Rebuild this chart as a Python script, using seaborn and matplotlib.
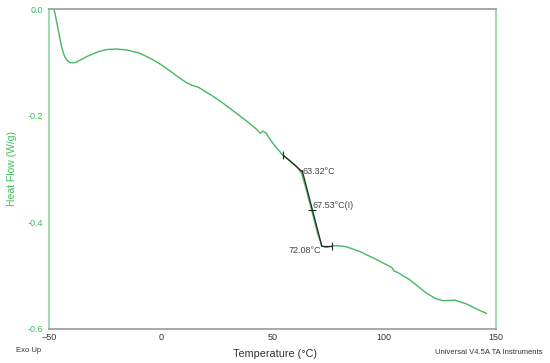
import numpy as np
import pandas as pd
import matplotlib
matplotlib.use('Agg')
import matplotlib.pyplot as plt
from matplotlib.ticker import MultipleLocator, FuncFormatter
import seaborn as sns

# DSC trace
temperature = [-47.8, -47.0, -46.3, -45.6, -45.0, -44.3, -43.6, -43.0, -42.3, -41.5,
               -40.5, -39.3, -38.0, -36.5, -33.0, -28.0,
               -24.0, -19.7, -15.0, -9.3, -4.0, 0.0, 4.1, 8.6, 11.5, 14.0,
               17.0, 20.0, 23.5, 28.0, 34.0, 39.0, 43.0, 44.4, 45.9, 47.2,
               49.5, 51.9, 54.8, 58.0, 61.0, 63.0, 65.0, 67.5, 70.0, 72.0,
               74.0, 77.2, 80.0, 83.2, 89.2, 96.6, 102.6, 103.5, 104.3, 106.0,
               111.5, 119.0, 123.0, 126.4, 131.6, 136.8, 141.0, 145.8]
heat_flow = [0.000, -0.015, -0.030, -0.045, -0.058, -0.072, -0.082, -0.089, -0.094, -0.098,
             -0.1005, -0.101, -0.100, -0.097, -0.089, -0.080,
             -0.076, -0.075, -0.077, -0.083, -0.094, -0.104, -0.116, -0.130, -0.138, -0.143,
             -0.147, -0.155, -0.164, -0.177, -0.196, -0.212, -0.226, -0.233, -0.229, -0.233,
             -0.248, -0.261, -0.275, -0.285, -0.296, -0.308, -0.337, -0.377, -0.418, -0.444,
             -0.447, -0.444, -0.444, -0.446, -0.455, -0.470, -0.483, -0.485, -0.491, -0.494,
             -0.508, -0.533, -0.543, -0.547, -0.546, -0.553, -0.562, -0.571]

# glass transition construction lines
onset_T = [54.8, 63.3]
onset_H = [-0.274, -0.305]
mid_T = [63.3, 72.1]
mid_H = [-0.303, -0.445]
end_T = [72.1, 76.5]
end_H = [-0.445, -0.445]

labels = ["63.32°C", "67.53°C(I)", "72.08°C"]

sns.set_style("white")
plt.rcParams['font.family'] = ['Liberation Sans', 'DejaVu Sans']

green = '#45b862'
light_green = '#9fdcb2'
label_green = '#3cbf5c'
grey = '#9a9a9a'
dark = '#1e2a22'

fig = plt.figure(figsize=(5.5, 3.63), dpi=100)
ax = fig.add_axes([0.0891, 0.0937, 0.8127, 0.8815])

df = pd.DataFrame({'T': temperature, 'H': heat_flow})
sns.lineplot(data=df, x='T', y='H', ax=ax, color=green, lw=1.0, sort=False)

for tx, hy in [(onset_T, onset_H), (mid_T, mid_H), (end_T, end_H)]:
    ax.plot(tx, hy, color=dark, lw=0.9)
ax.plot([onset_T[0], end_T[1]], [onset_H[0], end_H[1]], ls='none', marker='|',
        color=dark, ms=6, mew=0.8)
ax.plot([67.5], [-0.377], ls='none', marker='_', color=dark, ms=6, mew=0.8)

ax.text(63.6, -0.305, labels[0], fontsize=6.5, color='#444444', va='center', ha='left')
ax.text(67.9, -0.368, labels[1], fontsize=6.5, color='#444444', va='center', ha='left')
ax.text(71.8, -0.453, labels[2], fontsize=6.5, color='#444444', va='center', ha='right')

ax.set_xlim(-50, 150)
ax.set_ylim(-0.6, 0.0)
ax.xaxis.set_major_locator(MultipleLocator(50))
ax.xaxis.set_minor_locator(MultipleLocator(12.5))
ax.yaxis.set_major_locator(MultipleLocator(0.2))
ax.yaxis.set_minor_locator(MultipleLocator(0.05))
ax.yaxis.set_major_formatter(FuncFormatter(lambda v, p: f"{v:.1f}".replace('-0.0', '0.0')))

ax.tick_params(axis='x', which='major', direction='inout', length=4, width=0.8,
               color=grey, labelsize=6.5, labelcolor='#333333', pad=1)
ax.tick_params(axis='x', which='minor', direction='in', length=2, width=0.8, color=grey)
ax.tick_params(axis='y', which='major', direction='out', length=3, width=0.8,
               color=light_green, labelsize=6.5, labelcolor=label_green, pad=1)
ax.tick_params(axis='y', which='minor', direction='in', length=2, width=0.8, color=grey)

for side in ['left', 'right']:
    ax.spines[side].set_color(light_green)
    ax.spines[side].set_linewidth(1.5)
for side in ['top', 'bottom']:
    ax.spines[side].set_color(grey)
    ax.spines[side].set_linewidth(1.2)

ax.set_xlabel('Temperature (°C)', fontsize=7.8, color='#333333')
ax.xaxis.set_label_coords(0.505, -0.062)
ax.set_ylabel('Heat Flow (W/g)', fontsize=7.5, color=label_green)
ax.yaxis.set_label_coords(-0.072, 0.5)

fig.text(16 / 550, 1 - 351 / 363, 'Exo Up', fontsize=5.5, color='#333333', va='center')
fig.text(543 / 550, 1 - 352 / 363, 'Universal V4.5A TA Instruments', fontsize=5.5,
         color='#333333', va='center', ha='right')

fig.savefig('out.png', dpi=100)
